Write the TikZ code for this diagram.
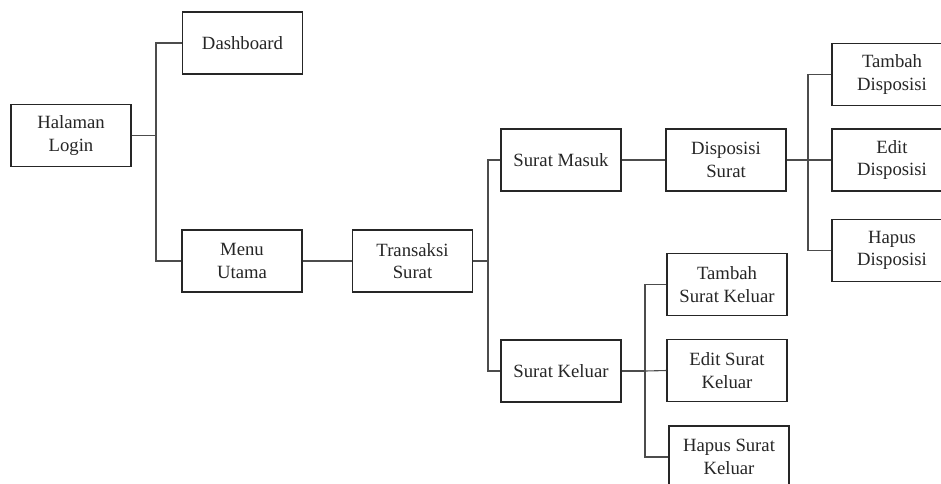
\documentclass[tikz,border=0pt]{standalone}
\usepackage{fontspec}
\setmainfont{Liberation Serif}
\begin{document}
\begin{tikzpicture}[x=1pt,y=-1pt,
  menubox/.style={draw=black!85, line width=1.1pt, fill=white,
    minimum width=120pt, minimum height=62pt, inner sep=2pt,
    align=center, font=\fontsize{18.7}{22.5}\selectfont, text=black!85},
  link/.style={draw=black!70, line width=1.1pt}]
\useasboundingbox (0,0) rectangle (941,483);
\clip (0,0) rectangle (941,483);

% level 0 and 1
\node[menubox] (login) at (71,135.5) {Halaman\\Login};
\node[menubox] (dash)  at (242.5,43) {Dashboard};
\node[menubox] (menu)  at (242,261) {Menu\\Utama};

% transaksi branch
\node[menubox] (trans)  at (412.5,261) {Transaksi\\Surat};
\node[menubox] (masuk)  at (561,160) {Surat Masuk};
\node[menubox] (keluar) at (561,371) {Surat Keluar};

% disposisi branch
\node[menubox] (disp)  at (726,160) {Disposisi\\Surat};
\node[menubox] (tdisp) at (892,74.5) {Tambah\\Disposisi};
\node[menubox] (edisp) at (892,160) {Edit\\Disposisi};
\node[menubox] (hdisp) at (892,250.5) {Hapus\\Disposisi};

% surat keluar branch
\node[menubox] (tsk) at (727,284.5) {Tambah\\Surat Keluar};
\node[menubox] (esk) at (727,370.5) {Edit Surat\\Keluar};
\node[menubox] (hsk) at (729,457) {Hapus Surat\\Keluar};

% junction points of the tree
\coordinate (j1) at (156,135.5);
\coordinate (j2) at (488,261);
\coordinate (j3) at (808,160);
\coordinate (j4) at (645,371);

% connectors
\draw[link] (login.east) -- (j1);
\draw[link] (dash.west) -| (j1) |- (menu.west);
\draw[link] (menu.east) -- (trans.west);
\draw[link] (trans.east) -- (j2);
\draw[link] (masuk.west) -| (j2) |- (keluar.west);
\draw[link] (masuk.east) -- (disp.west);
\draw[link] (disp.east) -- (j3);
\draw[link] (tdisp.west) -| (j3) |- (hdisp.west);
\draw[link] (j3) -- (edisp.west);
\draw[link] (keluar.east) -- (j4);
\draw[link] (tsk.west) -| (j4) |- (hsk.west);
\draw[link] (j4) -- (esk.west);
\end{tikzpicture}
\end{document}
